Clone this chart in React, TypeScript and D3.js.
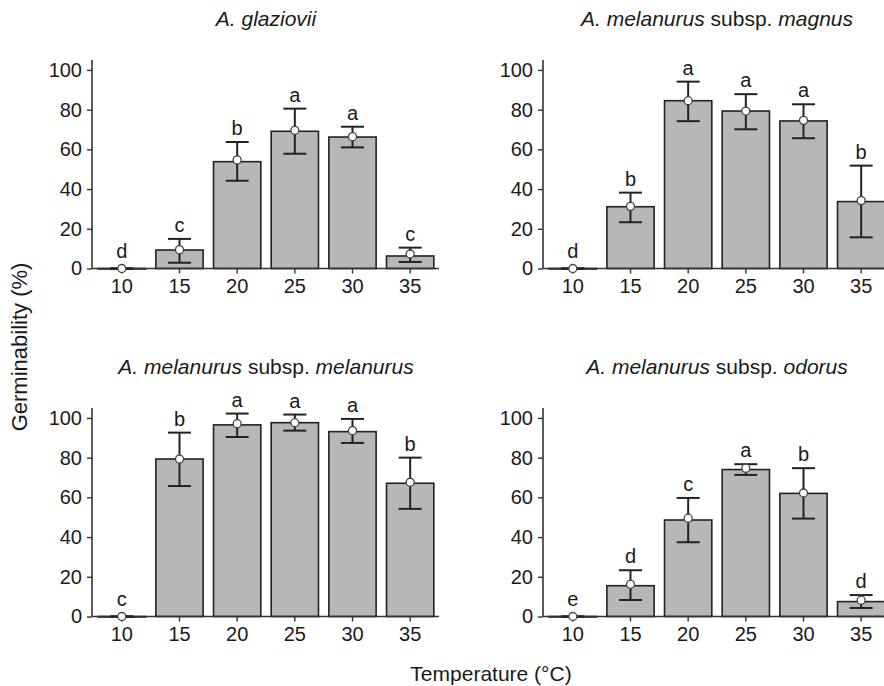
// App.tsx
import React, { useEffect, useRef } from 'react'
import * as d3 from 'd3'

const temps = ['10', '15', '20', '25', '30', '35']

// A. glaziovii
const glazBars = [0, 9.3, 53.8, 69.1, 66.2, 6.3]
const glazPoints = [0, 9.5, 54.7, 69.6, 66.4, 7.3]
const glazLow = [0, 2.9, 44.2, 57.8, 61, 3.3]
const glazHigh = [0, 14.9, 63.7, 80.5, 71.4, 10.5]
const glazLetters = ['d', 'c', 'b', 'a', 'a', 'c']

// A. melanurus subsp. magnus
const magBars = [0, 31.1, 84.5, 79.3, 74.3, 33.7]
const magPoints = [0, 31.3, 84.5, 79.3, 74.6, 34.2]
const magLow = [0, 23.3, 74.2, 70.1, 65.6, 15.7]
const magHigh = [0, 38.2, 94.1, 87.8, 82.7, 51.8]
const magLetters = ['d', 'b', 'a', 'a', 'a', 'b']

// A. melanurus subsp. melanurus
const melBars = [0, 79.3, 96.5, 97.6, 93.1, 67.1]
const melPoints = [0, 79.3, 97.1, 97.6, 93.6, 67.6]
const melLow = [0, 65.7, 90.4, 93.6, 87.4, 54.2]
const melHigh = [0, 92.6, 102.2, 101.7, 99.5, 80]
const melLetters = ['c', 'b', 'a', 'a', 'a', 'b']

// A. melanurus subsp. odorus
const odoBars = [0, 15.5, 48.6, 74, 62, 7.5]
const odoPoints = [0, 16.2, 49.5, 74.7, 62.2, 8.2]
const odoLow = [0, 8.3, 37.4, 71.3, 49.3, 4.3]
const odoHigh = [0, 23.3, 59.7, 76.7, 74.7, 10.8]
const odoLetters = ['e', 'd', 'c', 'a', 'b', 'd']

const yTicks = [0, 20, 40, 60, 80, 100]

const panels = [
  { title: [['A. glaziovii', true]], bars: glazBars, points: glazPoints, low: glazLow, high: glazHigh, letters: glazLetters, left: 93, bottom: 268.5 },
  { title: [['A. melanurus', true], [' subsp. ', false], ['magnus', true]], bars: magBars, points: magPoints, low: magLow, high: magHigh, letters: magLetters, left: 544, bottom: 268.5 },
  { title: [['A. melanurus', true], [' subsp. ', false], ['melanurus', true]], bars: melBars, points: melPoints, low: melLow, high: melHigh, letters: melLetters, left: 93, bottom: 616.5 },
  { title: [['A. melanurus', true], [' subsp. ', false], ['odorus', true]], bars: odoBars, points: odoPoints, low: odoLow, high: odoHigh, letters: odoLetters, left: 544, bottom: 616.5 },
]

const font = '"Liberation Sans", Arial, Helvetica, sans-serif'
const ink = '#1a1a1a'

function drawChart(node: SVGSVGElement) {
  const svg = d3.select(node)
  svg.selectAll('*').remove()

  const panelW = 346
  const panelH = 208.5

  panels.forEach((p) => {
    const x = d3.scaleBand().domain(temps).range([p.left, p.left + panelW]).paddingInner(0.18).paddingOuter(0.09)
    const y = d3.scaleLinear().domain([0, 105]).range([p.bottom, p.bottom - panelH])
    const g = svg.append('g')

    // title
    const t = g.append('text')
      .attr('x', p.left + panelW / 2)
      .attr('y', p.bottom - panelH - 34)
      .attr('text-anchor', 'middle')
      .attr('font-size', 21)
      .attr('fill', ink)
    p.title.forEach((part: any) => {
      t.append('tspan').attr('font-style', part[1] ? 'italic' : 'normal').text(part[0])
    })

    // bars
    g.selectAll('rect.bar')
      .data(p.bars)
      .enter()
      .append('rect')
      .attr('class', 'bar')
      .attr('x', (d, i) => x(temps[i])!)
      .attr('width', x.bandwidth())
      .attr('y', (d) => y(d))
      .attr('height', (d) => Math.max(y(0) - y(d), 0.5))
      .attr('fill', '#b7b7b7')
      .attr('stroke', '#222')
      .attr('stroke-width', 1.6)

    // axes
    const yAxis = d3.axisLeft(y).tickValues(yTicks).tickSize(5).tickPadding(5)
    const ya = g.append('g').attr('transform', `translate(${p.left - 1},0)`).call(yAxis)
    const xAxis = d3.axisBottom(x).tickSize(5).tickPadding(5)
    const xa = g.append('g').attr('transform', `translate(0,${p.bottom})`).call(xAxis)
    ;[ya, xa].forEach((a) => {
      a.select('.domain').attr('stroke', '#333').attr('stroke-width', 1.6)
      a.selectAll('.tick line').attr('stroke', '#333').attr('stroke-width', 1.4)
      a.selectAll('.tick text').attr('font-size', 20).attr('font-family', font).attr('fill', ink)
    })
    ya.select('.domain').attr('d', `M-0,${y(105)}V${y(0)}`)
    xa.select('.domain').attr('d', `M${p.left - 1},0H${p.left + panelW}`)

    // error bars
    const cx = (i: number) => x(temps[i])! + x.bandwidth() / 2
    const cap = 11.5
    const eb = g.selectAll('g.err').data(p.bars).enter().append('g').attr('class', 'err')
    eb.append('line')
      .attr('x1', (d, i) => cx(i)).attr('x2', (d, i) => cx(i))
      .attr('y1', (d, i) => y(p.low[i])).attr('y2', (d, i) => y(p.high[i]))
    eb.append('line')
      .attr('x1', (d, i) => cx(i) - cap).attr('x2', (d, i) => cx(i) + cap)
      .attr('y1', (d, i) => y(p.high[i])).attr('y2', (d, i) => y(p.high[i]))
    eb.append('line')
      .attr('x1', (d, i) => cx(i) - cap).attr('x2', (d, i) => cx(i) + cap)
      .attr('y1', (d, i) => y(p.low[i])).attr('y2', (d, i) => y(p.low[i]))
    eb.selectAll('line').attr('stroke', '#222').attr('stroke-width', 2)

    // points
    g.selectAll('circle.pt')
      .data(p.points)
      .enter()
      .append('circle')
      .attr('class', 'pt')
      .attr('cx', (d, i) => cx(i))
      .attr('cy', (d) => y(d))
      .attr('r', 4)
      .attr('fill', '#fff')
      .attr('stroke', '#444')
      .attr('stroke-width', 1.3)

    // significance letters
    g.selectAll('text.letter')
      .data(p.letters)
      .enter()
      .append('text')
      .attr('class', 'letter')
      .attr('x', (d, i) => cx(i))
      .attr('y', (d, i) => Math.min(y(p.high[i]) - 7, y(p.points[i]) - 11))
      .attr('text-anchor', 'middle')
      .attr('font-size', 20)
      .attr('fill', ink)
      .text((d) => d)
  })

  svg.append('text')
    .attr('transform', 'translate(27,347) rotate(-90)')
    .attr('text-anchor', 'middle')
    .attr('font-size', 22)
    .attr('fill', ink)
    .text('Germinability (%)')

  svg.append('text')
    .attr('x', 491)
    .attr('y', 681)
    .attr('text-anchor', 'middle')
    .attr('font-size', 21)
    .attr('fill', ink)
    .text('Temperature (°C)')
}

export default function App() {
  const ref = useRef<SVGSVGElement>(null)
  useEffect(() => {
    if (ref.current) drawChart(ref.current)
  }, [])
  return (
    <div style={{ position: 'absolute', left: 0, top: 0 }}>
      <svg ref={ref} width={884} height={686} style={{ display: 'block', background: '#fff', fontFamily: font }} />
    </div>
  )
}
